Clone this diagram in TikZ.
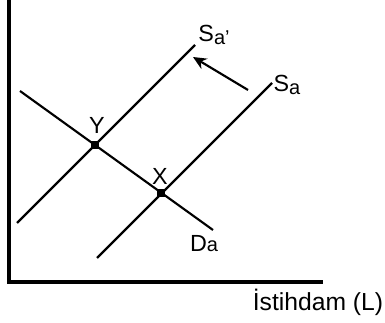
\documentclass[tikz,border=0pt]{standalone}
\usepackage{fontspec}
\setmainfont{Liberation Sans}
\usetikzlibrary{arrows.meta}

\begin{document}
\begin{tikzpicture}[x=0.75pt, y=-0.75pt,
    curve/.style={line width=1.6pt},
    lbl/.style={inner sep=0pt, font=\fontsize{17.5}{20}\selectfont},
    dot/.style={fill=black, rectangle, minimum size=5.5pt, inner sep=0pt}]
    \useasboundingbox (0,0) rectangle (385,323);

    % axes
    \draw[line width=2.4pt] (9,0) -- (9,282) -- (323,282);

    % supply and demand lines
    \coordinate (sap1) at (17,223);
    \coordinate (sap2) at (195,45);
    \coordinate (sa1) at (97,258);
    \coordinate (sa2) at (272,83);
    \coordinate (da1) at (20,91);
    \coordinate (da2) at (213,230);
    \draw[curve] (sap1) -- (sap2);
    \draw[curve] (sa1) -- (sa2);
    \draw[curve] (da1) -- (da2);

    % equilibrium points
    \node[dot] (ptY) at (95,145) {};
    \node[dot] (ptX) at (161,193) {};
    \node[lbl] (lblY) at (97,125) {Y};
    \node[lbl] (lblX) at (160,176) {X};

    % shift of supply
    \coordinate (arrS) at (248,90);
    \coordinate (arrE) at (193,57);
    \draw[curve, -{Stealth[length=10pt, width=9pt]}] (arrS) -- (arrE);

    \node[lbl] (lblSap) at (214,35) {S\raisebox{-2pt}{\fontsize{15}{17}\selectfont a\char"0027}};
    \node[lbl] (lblSa) at (287,85) {S\raisebox{-2pt}{\fontsize{15}{17}\selectfont a}};
    \node[lbl] (lblDa) at (204,244) {D\fontsize{15}{17}\selectfont a};
    \node[lbl, font=\fontsize{18.5}{20}\selectfont] (lblL) at (318,302) {İstihdam (L)};
\end{tikzpicture}
\end{document}
